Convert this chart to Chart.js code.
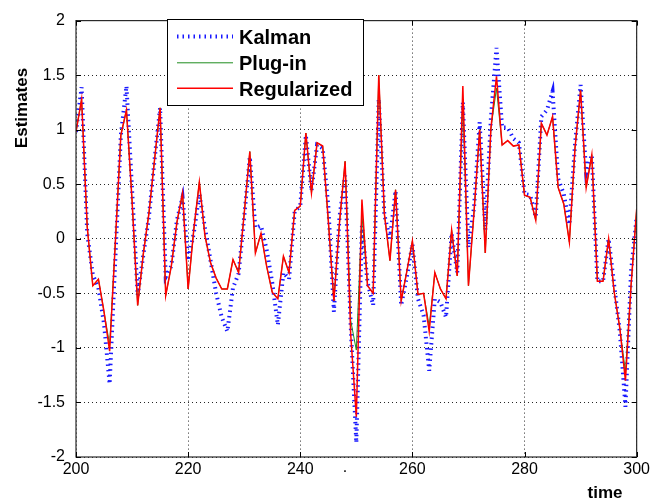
<!DOCTYPE html>
<html><head><meta charset="utf-8">
<script src="https://cdn.jsdelivr.net/npm/chart.js@4.4.0/dist/chart.umd.min.js"></script>
<style>html,body{margin:0;padding:0;background:#fff;}canvas{display:block;}</style>
</head><body>
<canvas id="c" width="653" height="504"></canvas>
<script>
const time = [200,201,202,203,204,205,206,207,208,209,210,211,212,213,214,215,216,217,218,219,220,221,222,223,224,225,226,227,228,229,230,231,232,233,234,235,236,237,238,239,240,241,242,243,244,245,246,247,248,249,250,251,252,253,254,255,256,257,258,259,260,261,262,263,264,265,266,267,268,269,270,271,272,273,274,275,276,277,278,279,280,281,282,283,284,285,286,287,288,289,290,291,292,293,294,295,296,297,298,299,300];
const kalman = [0.98,1.39,0.05,-0.33,-0.45,-0.78,-1.33,-0.20,0.95,1.40,0.45,-0.52,-0.15,0.20,0.72,1.20,-0.35,-0.25,0.17,0.38,-0.20,0.05,0.41,0.10,-0.20,-0.50,-0.72,-0.85,-0.45,-0.32,0.20,0.75,0.10,0.12,-0.10,-0.40,-0.79,-0.31,-0.37,0.25,0.30,0.95,0.44,0.86,0.83,0.30,-0.67,0.20,0.58,-0.80,-1.87,0.12,-0.40,-0.61,1.28,0.22,0.00,0.44,-0.61,-0.35,-0.05,-0.55,-0.70,-1.21,-0.55,-0.58,-0.72,0.05,-0.31,1.25,-0.08,0.29,1.07,0.08,1.10,1.75,1.02,1.02,0.92,0.88,0.41,0.40,0.20,1.12,1.18,1.35,0.55,0.41,0.13,0.86,1.41,0.60,0.77,-0.39,-0.39,0.00,-0.43,-0.85,-1.54,-0.30,0.20];
const plugIn = [0.98,1.28,0.11,-0.43,-0.37,-0.67,-0.97,-0.05,0.95,1.18,0.35,-0.61,-0.14,0.23,0.72,1.20,-0.52,-0.25,0.15,0.42,-0.46,0.08,0.52,0.03,-0.22,-0.36,-0.46,-0.46,-0.19,-0.31,0.23,0.80,-0.13,0.05,-0.25,-0.49,-0.55,-0.16,-0.31,0.26,0.30,0.97,0.42,0.88,0.85,0.17,-0.57,0.15,0.71,-0.75,-1.02,0.22,-0.43,-0.50,1.50,0.23,-0.20,0.45,-0.57,-0.30,-0.02,-0.51,-0.50,-0.80,-0.31,-0.46,-0.55,0.08,-0.34,1.28,-0.43,0.25,1.00,-0.13,1.01,1.38,0.86,0.90,0.85,0.86,0.40,0.38,0.17,1.06,0.95,1.12,0.47,0.32,-0.03,0.83,1.36,0.47,0.77,-0.39,-0.39,0.00,-0.49,-0.82,-1.22,-0.43,0.27];
const regularized = [0.98,1.28,0.11,-0.43,-0.37,-0.67,-1.03,-0.05,0.95,1.18,0.35,-0.61,-0.14,0.23,0.72,1.20,-0.52,-0.25,0.15,0.42,-0.46,0.08,0.52,0.03,-0.22,-0.36,-0.46,-0.46,-0.19,-0.31,0.23,0.80,-0.13,0.05,-0.25,-0.49,-0.55,-0.16,-0.31,0.26,0.30,0.97,0.42,0.88,0.85,0.17,-0.57,0.15,0.71,-0.88,-1.63,0.36,-0.43,-0.50,1.50,0.23,-0.20,0.45,-0.57,-0.30,-0.02,-0.51,-0.50,-0.85,-0.31,-0.46,-0.55,0.08,-0.34,1.40,-0.43,0.25,1.00,-0.13,1.01,1.49,0.86,0.90,0.85,0.86,0.40,0.38,0.17,1.06,0.95,1.12,0.47,0.32,-0.03,0.83,1.36,0.47,0.77,-0.39,-0.39,0.00,-0.49,-0.82,-1.30,-0.43,0.27];
const seriesNames = ['Kalman','Plug-in','Regularized'];
const xTicks = [200,220,240,260,280,300];
const xTickLabels = ['200','220','240','260','280','300'];
const yTicks = [-2,-1.5,-1,-0.5,0,0.5,1,1.5,2];
const yTickLabels = ['-2','-1.5','-1','-0.5','0','0.5','1','1.5','2'];
const xTitle = 'time';
const yTitle = 'Estimates';

const FONT = "'Liberation Sans', Arial, sans-serif";
const toXY = arr => arr.map((v,i)=>({x:time[i], y:v}));

const kalmanStyle = {color:'rgba(0,0,255,0.9)', width:4, dash:[1.5,4]};
const plugStyle = {color:'#1e8c1e', width:1.0};
const regStyle = {color:'#ff0000', width:1.5};

const extras = {
  id:'extras',
  afterDraw(chart){
    const ctx = chart.ctx, a = chart.chartArea;
    const xs = chart.scales.x, ys = chart.scales.y;
    ctx.save();
    ctx.strokeStyle = '#2a2a2a'; ctx.lineWidth = 1.2; ctx.setLineDash([]);
    ctx.strokeRect(a.left, a.top, a.right-a.left, a.bottom-a.top);
    ctx.lineWidth = 1; ctx.strokeStyle = '#000';
    ctx.beginPath();
    xTicks.forEach(v=>{ const px = Math.round(xs.getPixelForValue(v))+0.5;
      ctx.moveTo(px,a.bottom); ctx.lineTo(px,a.bottom-5);
      ctx.moveTo(px,a.top); ctx.lineTo(px,a.top+5); });
    yTicks.forEach(v=>{ const py = Math.round(ys.getPixelForValue(v))+0.5;
      ctx.moveTo(a.left,py); ctx.lineTo(a.left+5,py);
      ctx.moveTo(a.right,py); ctx.lineTo(a.right-5,py); });
    ctx.stroke();
    const bx=167.5, by=19.5, bw=196, bh=86;
    ctx.fillStyle='#fff'; ctx.fillRect(bx,by,bw,bh);
    ctx.strokeStyle='#000'; ctx.lineWidth=1; ctx.strokeRect(bx,by,bw,bh);
    const rows=[36.5,62.8,88.3];
    const styles=[kalmanStyle,plugStyle,regStyle];
    styles.forEach((s,i)=>{
      ctx.beginPath(); ctx.strokeStyle=s.color; ctx.lineWidth=s.width;
      ctx.setLineDash(s.dash||[]); ctx.lineCap='butt';
      ctx.moveTo(177,rows[i]); ctx.lineTo(233,rows[i]); ctx.stroke();
    });
    ctx.setLineDash([]);
    ctx.fillStyle='#000'; ctx.font='bold 20px '+FONT; ctx.textAlign='left'; ctx.textBaseline='alphabetic';
    seriesNames.forEach((n,i)=>ctx.fillText(n,239,rows[i]+7.2));
    ctx.font='bold 17px '+FONT; ctx.textAlign='center'; ctx.textBaseline='middle';
    ctx.fillText(xTitle,605,493);
    ctx.save(); ctx.translate(22,108); ctx.rotate(-Math.PI/2); ctx.fillText(yTitle,0,0); ctx.restore();
    ctx.font='16px '+FONT; ctx.fillText('.',345,468);
    ctx.restore();
  }
};

new Chart(document.getElementById('c'), {
  type:'line',
  data:{datasets:[
    {label:seriesNames[0], data:toXY(kalman), borderColor:kalmanStyle.color, borderWidth:kalmanStyle.width, borderDash:kalmanStyle.dash, borderCapStyle:'butt', pointRadius:0, tension:0, order:2},
    {label:seriesNames[1], data:toXY(plugIn), borderColor:plugStyle.color, borderWidth:plugStyle.width, pointRadius:0, tension:0, order:1},
    {label:seriesNames[2], data:toXY(regularized), borderColor:regStyle.color, borderWidth:regStyle.width, pointRadius:0, tension:0, order:0}
  ]},
  options:{
    responsive:false, animation:false, events:[],
    layout:{padding:{top:14,right:16,left:0,bottom:0}},
    plugins:{legend:{display:false}, tooltip:{enabled:false}},
    scales:{
      x:{type:'linear', min:200, max:300,
        afterBuildTicks:s=>{s.ticks=xTicks.map(v=>({value:v}));},
        afterFit:s=>{s.height=47;},
        ticks:{callback:(v)=>xTickLabels[xTicks.indexOf(v)], font:{family:FONT,size:16}, color:'#000', padding:3, maxRotation:0, autoSkip:false},
        grid:{color:'rgba(0,0,0,0.85)', lineWidth:1, drawTicks:false},
        border:{display:false, dash:[1,3]}
      },
      y:{type:'linear', min:-2, max:2,
        afterBuildTicks:s=>{s.ticks=yTicks.map(v=>({value:v}));},
        afterFit:s=>{s.width=76;},
        ticks:{callback:(v)=>yTickLabels[yTicks.indexOf(v)], font:{family:FONT,size:16}, color:'#000', padding:11, autoSkip:false},
        grid:{color:'rgba(0,0,0,0.85)', lineWidth:1, drawTicks:false},
        border:{display:false, dash:[1,3]}
      }
    }
  },
  plugins:[extras]
});
</script>
</body></html>
